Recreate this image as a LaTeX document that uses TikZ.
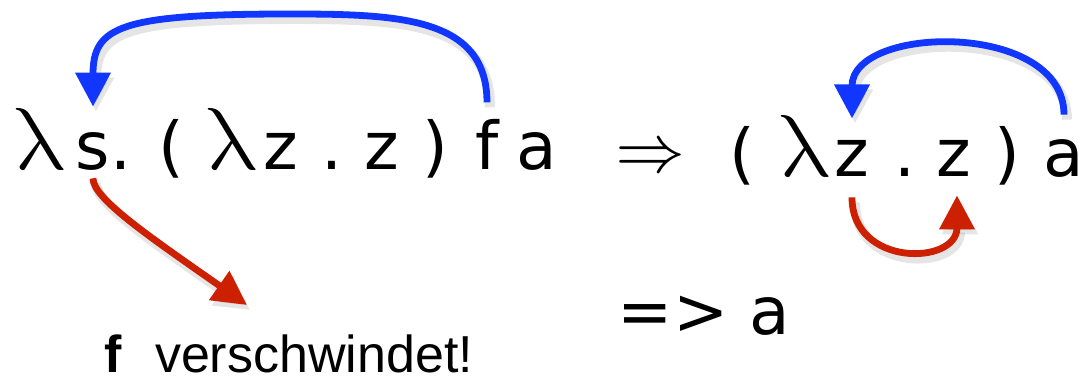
\documentclass[tikz,border=0pt]{standalone}
\usepackage{fontspec}
\setmainfont{DejaVu Sans}
\newfontfamily\lamfont{latinmodern-math.otf}
\newfontfamily\hinwfont{Liberation Sans}
\usetikzlibrary{arrows.meta, positioning}
\definecolor{pfeilblau}{RGB}{16,54,255}
\definecolor{pfeilrot}{RGB}{204,32,0}
\tikzstyle{tok} = [inner sep=0pt, anchor=base, font=\fontsize{33}{40}\selectfont]
\tikzstyle{lam} = [inner sep=0pt, anchor=base, font=\fontsize{44}{50}\lamfont]
\tikzstyle{hinw} = [inner sep=0pt, anchor=base, font=\fontsize{26}{30}\hinwfont]
\tikzstyle{bogen} = [line width=3.4pt, -{Triangle[length=17pt,width=17pt]},
  preaction={draw=black, opacity=0.10, line width=5pt, transform canvas={shift={(1.5pt,-2.5pt)}}}]

\begin{document}
\begin{tikzpicture}[x=0.5pt, y=-0.5pt]
        \useasboundingbox (0,0) rectangle (1089,383);

        % Ausdruck links
        \node[lam] (lamS) at (38,170) {λ};
        \node[tok] (sVar) at (93,170) {s};
        \node[tok] (punktS) at (121,170) {.};
        \node[tok] (klAuf) at (171,170) {(};
        \node[lam] (lamZ) at (230,170) {λ};
        \node[tok] (zBind) at (281,170) {z};
        \node[tok] (punktZ) at (332,170) {.};
        \node[tok] (zRumpf) at (382,170) {z};
        \node[tok] (klZu) at (435,170) {)};
        \node[tok] (fArg) at (487,170) {f};
        \node[tok] (aArg) at (537,170) {a};

        % Ausdruck rechts
        \node[inner sep=0pt, font=\fontsize{35}{40}\lamfont] (folgt) at (650,155) {⇒};
        \node[tok] (klAufB) at (742,177) {(};
        \node[lam] (lamZB) at (803,177) {λ};
        \node[tok] (zBindB) at (852,177) {z};
        \node[tok] (punktZB) at (905,177) {.};
        \node[tok] (zRumpfB) at (954,177) {z};
        \node[tok] (klZuB) at (1007,177) {)};
        \node[tok] (aArgB) at (1064,177) {a};

        % Ergebnis und Hinweis
        \node[tok] (ergebnis) at (704,335) {=> a};
        \node[hinw, font=\fontsize{26}{30}\hinwfont\bfseries] (fWeg) at (113,373) {f};
        \node[hinw] (verschw) at (314,373) {verschwindet!};

        % Pfeile
        \coordinate (bogenOben) at (290,14);
        \coordinate (rotEnde) at (247,305);
        \draw[bogen, pfeilblau] ([yshift=8.5pt]fArg.north) .. controls +(0,-85) and +(110,0) .. (bogenOben)
            .. controls +(-170,0) and +(0,-80) .. ([yshift=13pt]sVar.north);
        \draw[bogen, pfeilrot] ([yshift=-3.5pt]sVar.south) .. controls +(0,20) and +(-100,-70) .. (rotEnde);
        \draw[bogen, pfeilblau] ([yshift=12.5pt]aArgB.north) .. controls +(0,-94) and +(0,-94) .. ([yshift=11pt]zBindB.north);
        \draw[bogen, pfeilrot] ([yshift=-10pt]zBindB.south) .. controls +(0,70) and +(0,70) .. ([xshift=1.5pt, yshift=-9pt]zRumpfB.south);

    \end{tikzpicture}
\end{document}
